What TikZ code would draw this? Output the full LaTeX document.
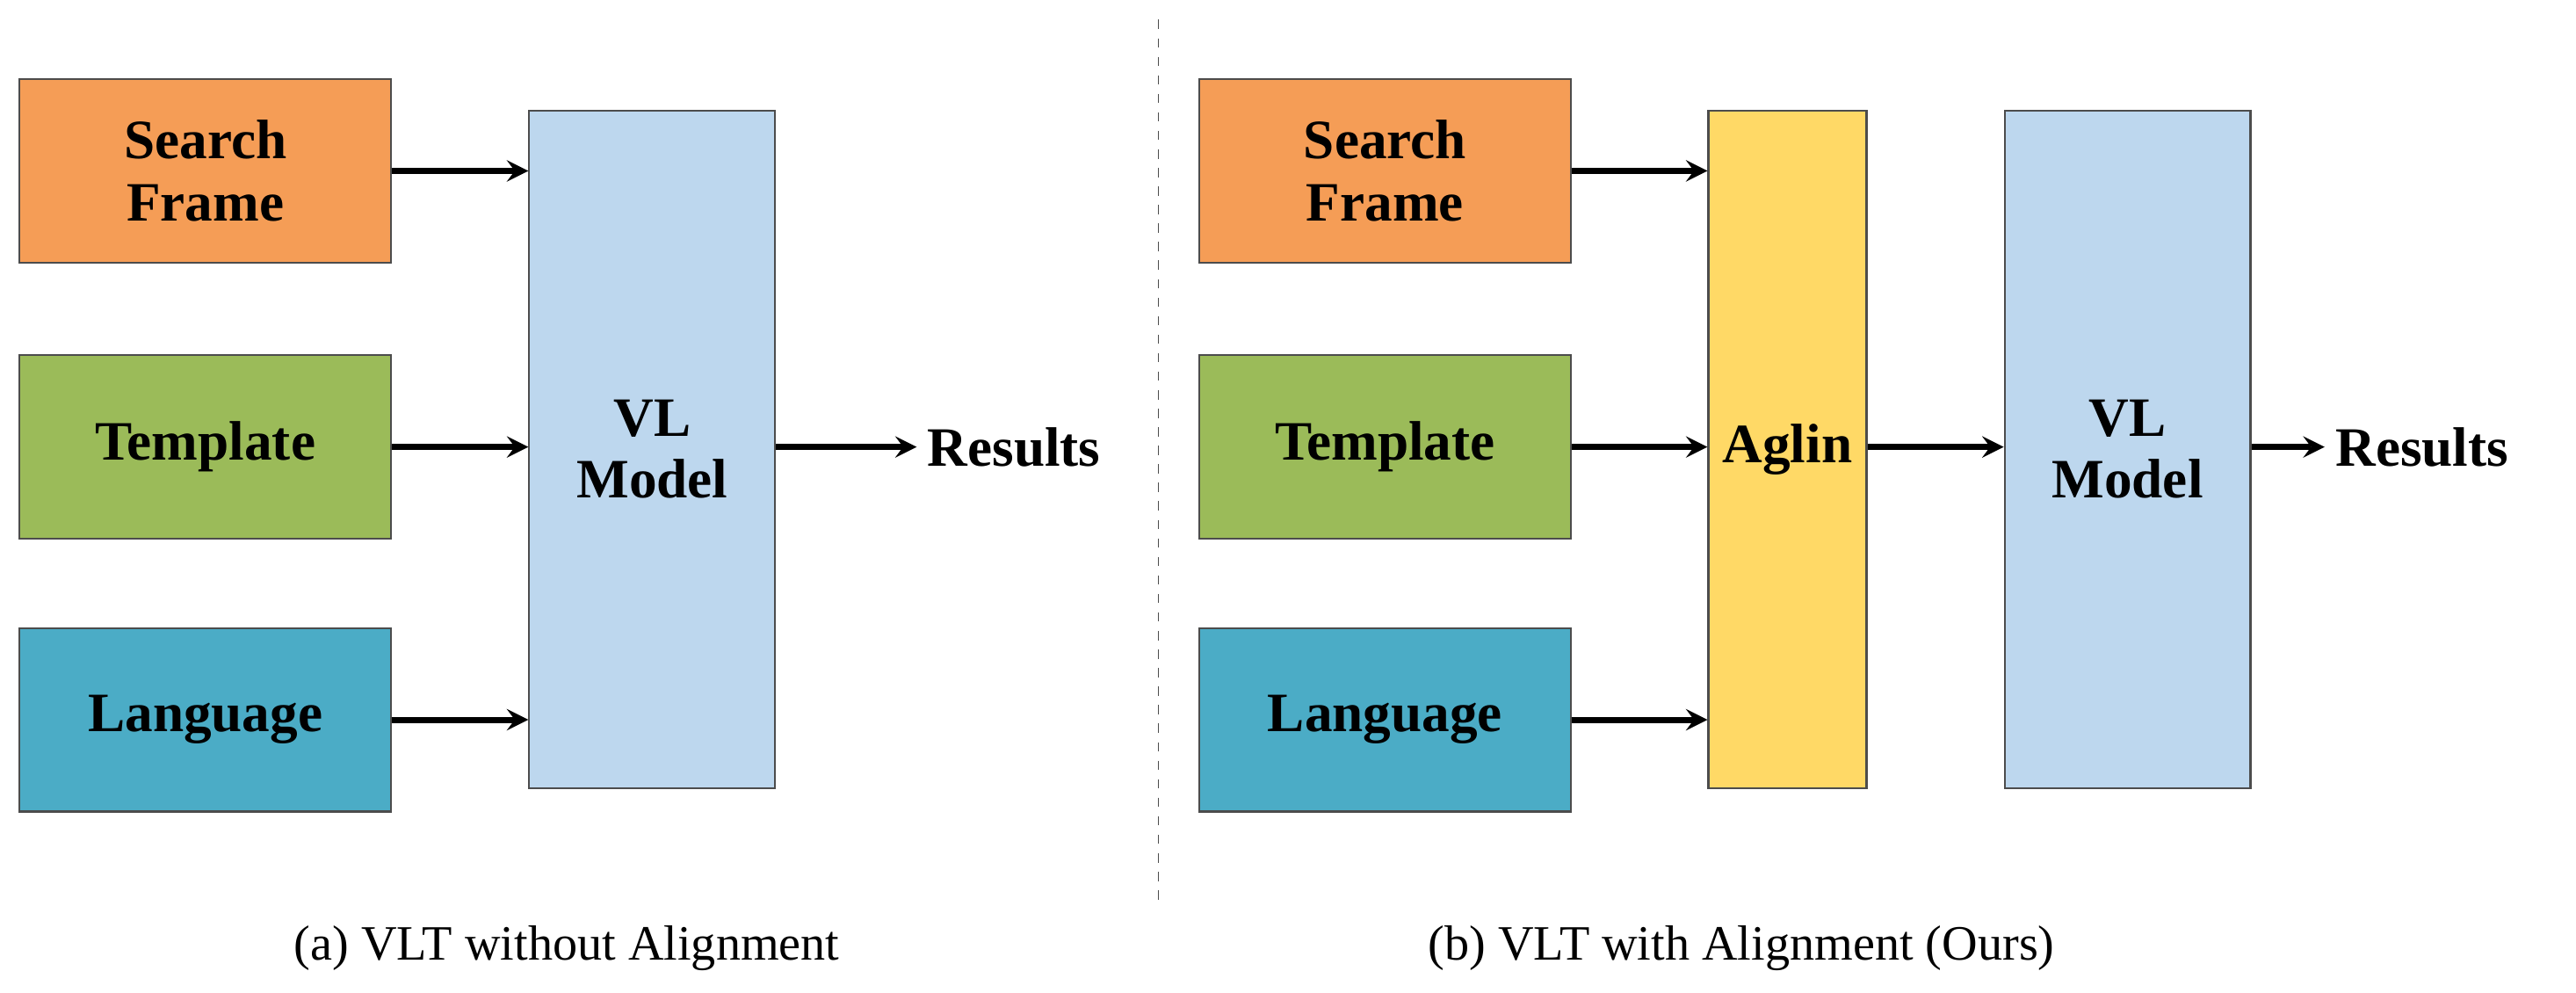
\documentclass[tikz,border=0pt]{standalone}
\usepackage{fontspec}
\setmainfont{Liberation Serif}
\usetikzlibrary{positioning}
\definecolor{frameC}{HTML}{F59D56}
\definecolor{tempC}{HTML}{9BBB59}
\definecolor{langC}{HTML}{4BACC6}
\definecolor{vlC}{HTML}{BDD7EE}
\definecolor{alC}{HTML}{FFD966}
\tikzset{
  inbox/.style = {draw = black!70, line width = 0.6pt, minimum width = 4.23cm,
  minimum height = 2.09cm, align = center, font = \fontsize{18}{20}\selectfont\bfseries},
  bigbox/.style = {inbox, minimum width = 2.8cm, minimum height = 7.72cm},
  arr/.style = {-stealth, line width = 2pt},
  captext/.style = {font = \fontsize{16}{18}\selectfont}
}
\begin{document}
\begin{tikzpicture}[x = 0.0187cm, y = -0.0187cm]
  \useasboundingbox (0, 0) rectangle (1568, 604);
  % left half: without alignment
  \node[inbox, fill = frameC] (sfA) at (125, 104) {Search\\Frame};
  \node[inbox, fill = tempC] (tpA) at (125, 272) {Template};
  \node[inbox, fill = langC] (lgA) at (125, 438) {Language};
  \node[bigbox, fill = vlC] (vlA) at (397, 273.5) {VL\\Model};
  \node[font = \fontsize{18}{20}\selectfont\bfseries, anchor = west] (resA) at (558, 272) {Results};
  \draw[arr] (sfA.east |- 0, 104) -- (vlA.west |- 0, 104);
  \draw[arr] (tpA) -- (vlA.west |- tpA);
  \draw[arr] (lgA.east |- 0, 438) -- (vlA.west |- 0, 438);
  \draw[arr] (vlA.east |- resA) -- (resA);
  % separator
  \coordinate (top) at (705, 12);
  \coordinate (bot) at (705, 552);
  \draw[dashed, black!70] (top) -- (bot);
  % right half: with alignment
  \node[inbox, fill = frameC] (sfB) at (843, 104) {Search\\Frame};
  \node[inbox, fill = tempC] (tpB) at (843, 272) {Template};
  \node[inbox, fill = langC] (lgB) at (843, 438) {Language};
  \node[bigbox, minimum width = 1.8cm, fill = alC] (alB) at (1088, 273.5) {Aglin};
  \node[bigbox, fill = vlC] (vlB) at (1295, 273.5) {VL\\Model};
  \node[font = \fontsize{18}{20}\selectfont\bfseries, anchor = west] (resB) at (1415, 272) {Results};
  \draw[arr] (sfB.east |- 0, 104) -- (alB.west |- 0, 104);
  \draw[arr] (tpB) -- (alB.west |- tpB);
  \draw[arr] (lgB.east |- 0, 438) -- (alB.west |- 0, 438);
  \draw[arr] (alB.east |- tpB) -- (vlB.west |- tpB);
  \draw[arr] (vlB.east |- resB) -- (resB);
  % captions
  \node[captext] (capA) at (345, 577) {(a) VLT without Alignment};
  \node[captext] (capB) at (1060, 577) {(b) VLT with Alignment (Ours)};
\end{tikzpicture}
\end{document}
